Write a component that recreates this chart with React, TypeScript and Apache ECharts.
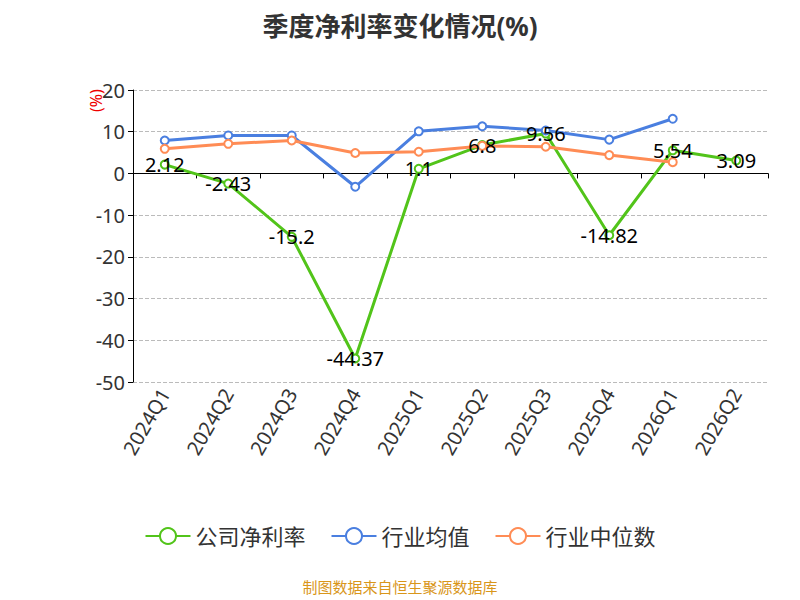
import { useEffect, useRef } from 'react'
import * as echarts from 'echarts'

const quarters = ['2024Q1', '2024Q2', '2024Q3', '2024Q4', '2025Q1', '2025Q2', '2025Q3', '2025Q4', '2026Q1', '2026Q2']
const companyRate = [2.12, -2.43, -15.2, -44.37, 1.1, 6.8, 9.56, -14.82, 5.54, 3.09]
const industryAvg = [7.9, 9.1, 9.1, -3.2, 10.1, 11.3, 10.3, 8.1, 13.1, null]
const industryMedian = [5.9, 7.1, 7.9, 4.9, 5.2, 6.6, 6.4, 4.4, 2.7, null]

const font = '"Noto Sans", "Noto Sans CJK SC", sans-serif'

function App() {
  const chartRef = useRef<HTMLDivElement | null>(null)

  useEffect(() => {
    if (!chartRef.current) {
      return undefined
    }
    const chart = echarts.init(chartRef.current, null, { renderer: 'svg' })
    const lineSeries = (name: string, data: (number | null)[], color: string, label: boolean) => ({
      name,
      type: 'line',
      data,
      symbol: 'circle',
      symbolSize: 8,
      showAllSymbol: true,
      itemStyle: { color: '#fff', borderColor: color, borderWidth: 2 },
      lineStyle: { color, width: 3 },
      label: label
        ? { show: true, position: 'inside', color: '#000', fontSize: 20, fontFamily: font }
        : { show: false },
    })
    chart.setOption({
      animation: false,
      textStyle: { fontFamily: font },
      title: {
        text: '季度净利率变化情况(%)',
        left: 'center',
        top: 0,
        textStyle: { fontSize: 26, fontWeight: 'bold', color: '#333', fontFamily: font },
      },
      grid: { left: 125, right: 24, top: 82, bottom: 218 },
      legend: {
        bottom: 48,
        itemWidth: 45,
        itemHeight: 20,
        itemGap: 25,
        textStyle: { fontSize: 22, color: '#333', fontFamily: font },
        data: ['公司净利率', '行业均值', '行业中位数'],
      },
      color: ['#52c41a', '#4a7fe0', '#ff8c55'],
      xAxis: {
        type: 'category',
        data: quarters,
        axisLine: { lineStyle: { color: '#000' } },
        axisTick: { show: true, lineStyle: { color: '#000' } },
        axisLabel: { rotate: 60, fontSize: 20, color: '#333', interval: 0, fontFamily: font },
      },
      yAxis: {
        type: 'value',
        min: -50,
        max: 20,
        interval: 10,
        axisLine: { show: true, lineStyle: { color: '#000' } },
        axisTick: { show: true, lineStyle: { color: '#000' } },
        axisLabel: { fontSize: 20, color: '#333', fontFamily: font },
        splitLine: { lineStyle: { type: 'dashed', color: '#bbb' } },
      },
      graphic: [
        {
          type: 'text',
          x: 80,
          y: 104,
          rotation: Math.PI / 2,
          style: { text: '(%)', fill: '#e00', fontSize: 16, fontFamily: font },
        },
        {
          type: 'text',
          left: 'center',
          top: 571,
          style: { text: '制图数据来自恒生聚源数据库', fill: '#d9961a', fontSize: 15, fontFamily: font },
        },
      ],
      series: [
        lineSeries('公司净利率', companyRate, '#52c41a', true),
        lineSeries('行业均值', industryAvg, '#4a7fe0', false),
        lineSeries('行业中位数', industryMedian, '#ff8c55', false),
      ],
    })
    return () => {
      chart.dispose()
    }
  }, [])

  return <div ref={chartRef} style={{ width: 784, height: 592 }} />
}

export default App
